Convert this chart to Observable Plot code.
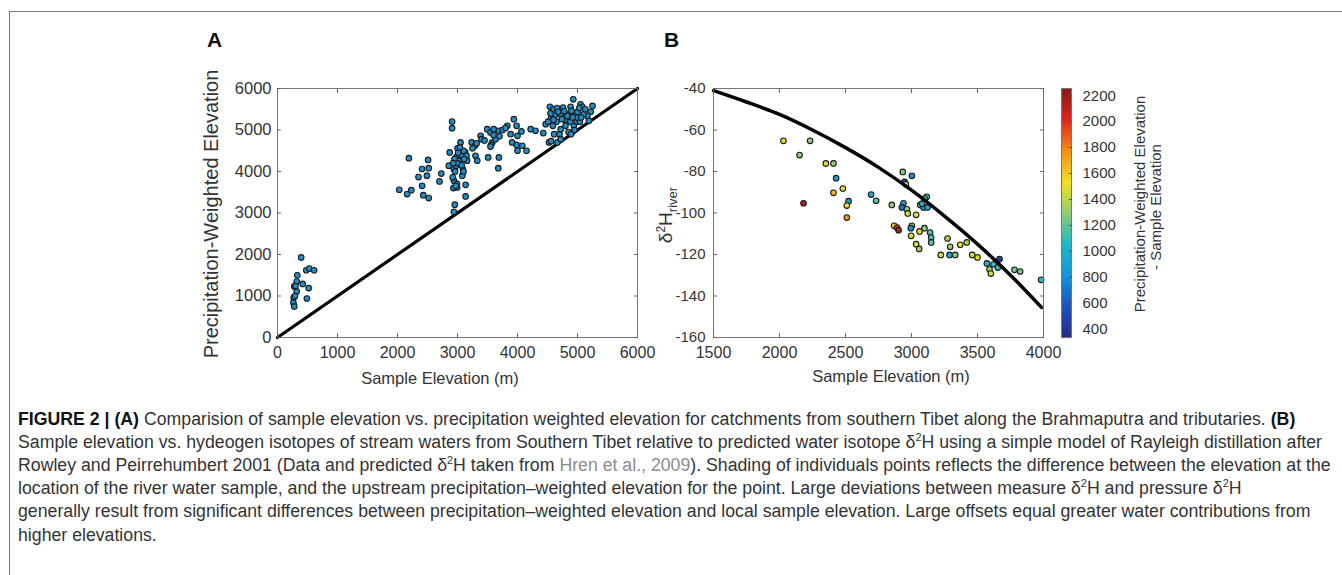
<!DOCTYPE html>
<html>
<head>
<meta charset="utf-8">
<script src="https://cdn.jsdelivr.net/npm/d3@7"></script>
<script src="https://cdn.jsdelivr.net/npm/@observablehq/plot@0.6"></script>
<style>
  body { margin: 0; background: #fff; }
  #root { position: relative; width: 1342px; height: 575px; overflow: hidden; background: #fff;
          font-family: "Liberation Sans", Arial, sans-serif; color: #333; }
  .abs { position: absolute; }
  .bt { left: 9px; top: 11px; width: 1340px; height: 0; border-top: 1.5px solid #777; }
  .bl { left: 9px; top: 11px; width: 0; height: 570px; border-left: 1.5px solid #777; }
  .panel { font-weight: bold; font-size: 21px; line-height: 21px; color: #111; }
  .ctr { white-space: nowrap; line-height: 1; transform: translate(-50%, -50%); }
  .rot { white-space: nowrap; line-height: 1; transform: translate(-50%, -50%) rotate(-90deg); }
  .cap { left: 18px; font-size: 18px; line-height: 23px; white-space: nowrap; transform-origin: 0 50%; color: #333; }
  .cap b { color: #111; }
  .link { color: #8c8c8c; }
  svg { position: absolute; }
</style>
</head>
<body>
<div id="root">
  <div class="abs bt"></div>
  <div class="abs bl"></div>
  <div class="abs panel" style="left:207px;top:29px">A</div>
  <div class="abs panel" style="left:664px;top:29px">B</div>

  <div class="abs rot" style="left:211px;top:214px;font-size:20px">Precipitation-Weighted Elevation</div>
  <div class="abs ctr" style="left:440px;top:378px;font-size:16.5px">Sample Elevation (m)</div>

  <div class="abs rot" style="left:667px;top:215px;font-size:19px">δ<sup style="font-size:12px">2</sup>H<sub style="font-size:13px">river</sub></div>
  <div class="abs ctr" style="left:891px;top:376px;font-size:16.5px">Sample Elevation (m)</div>

  <div class="abs rot" style="left:1139px;top:204px;font-size:15px">Precipitation-Weighted Elevation</div>
  <div class="abs rot" style="left:1155px;top:207px;font-size:15px">- Sample Elevation</div>

  <div id="caption"></div>
</div>
<script>
// ---------- Panel A data: [sample elevation (m), precipitation-weighted elevation (m)]
const pointsA = [
  [395,1930],[330,1500],[280,1230],[320,1350],[420,1290],[320,1110],[270,960],[290,1000],
  [265,840],[280,750],[480,1620],[530,1660],[610,1620],[520,1190],[490,940],[300,1240],
  [2030,3560],[2160,3455],[2230,3550],[2190,4320],[2350,3865],[2410,4060],[2510,4280],
  [2520,4080],[2490,3900],[2410,3655],[2430,3430],[2520,3360],[2700,3760],[2730,3950],
  [2855,4140],[2870,4460],[2910,5205],[2910,5045],[2955,3200],[2940,3030],[2940,3780],
  [2930,3600],[2995,3615],[3135,3680],[3135,3400],[3050,4700],[3000,4560],[2980,4350],
  [3020,4260],[3130,4460],[3160,4260],[3090,4060],[2940,4060],[2920,3860],[2980,4140],
  [3080,3900],[2960,4000],[3000,4200],[3060,4400],[3100,4500],[3040,4580],[2950,4300],
  [3100,4000],[3150,4380],[2990,3700],[3010,4450],[3070,4150],[2930,4200],[3110,4300],
  [2970,3650],
  [3235,4700],[3290,4620],[3300,4380],[3330,4260],[3385,4860],[3400,4780],[3495,5020],
  [3550,4940],[3605,5020],[3580,4700],[3635,4780],[3690,4980],[3510,4340],[3690,4340],
  [3680,4080],[3450,4750],[3560,4640],[3600,4880],[3250,4560],[3320,4680],[3550,4600],
  [3940,5260],[3830,5100],[3750,5000],[3985,5100],[3885,4900],[4000,4860],[4065,4965],
  [3910,4700],[3985,4640],[4000,4500],[4080,4620],[4150,4500],[3800,5050],[3700,4850],
  [4220,5020],[4300,4980],[4430,4925],
  [4470,5140],[4540,5560],[4600,5500],[4660,5530],[4760,5540],[4885,5560],[4930,5740],
  [5050,5620],[5080,5560],[5250,5580],[5220,5440],[5165,5340],[5190,5220],[4970,5380],
  [4850,5390],[4720,5380],[4620,5350],[4560,5280],[4510,5200],[4525,4700],[4610,4900],
  [4700,4900],[4665,4700],[4720,4780],[4720,5020],[4800,5100],[4910,4940],[4940,5100],
  [4990,5200],[5040,5200],[4880,5200],[4790,5250],[4650,5200],[4590,5100],[4780,5450],
  [4900,5460],[5000,5440],[5100,5380],[5130,5500],[4850,4950],[4950,5000],[5000,5300],
  [4560,4730],[4680,5440],[4830,5340],[4550,5400],[4920,5300],[5060,5300],[4890,4900],
  [5030,5530],[4740,5260],[4600,5250]
];
const identityLine = [0, 6000];
const xTicksA = [0, 1000, 2000, 3000, 4000, 5000, 6000];
const yTicksA = [0, 1000, 2000, 3000, 4000, 5000, 6000];

// ---------- Panel B data: [sample elevation (m), δ2H river, PW elevation - sample elevation]
const pointsB = [
  [2030,-65.2,1500],[2152,-72.1,1300],[2232,-65.2,1300],[2182,-95.3,2150],[2351,-76.1,1500],
  [2409,-76.1,1300],[2429,-83.2,850],[2409,-90.3,1650],[2480,-88.2,1480],[2523,-94.3,880],
  [2510,-96.4,1550],[2510,-102.2,1780],[2694,-91.1,950],[2732,-94.1,1180],[2851,-96.1,1300],
  [2869,-106.2,1550],[2890,-107.0,2000],[2902,-108.3,2150],[2934,-80.2,1280],[2947,-85.0,550],
  [2957,-86.1,1420],[3003,-82.1,780],[2939,-95.3,900],[2927,-97.3,700],[2965,-98.2,1320],
  [2972,-100.2,1480],[3003,-106.2,1250],[2995,-107.3,800],[2997,-111.0,1500],[3035,-100.9,1500],
  [3061,-108.9,1580],[3035,-115.0,1480],[3058,-117.3,1330],[3098,-107.3,1280],[3066,-96.1,1260],
  [3116,-92.2,1120],[3091,-97.3,850],[3121,-97.3,980],[3141,-109.4,1150],[3149,-111.8,1130],
  [3149,-114.2,1200],[3222,-120.2,1500],[3273,-112.3,1380],[3293,-116.3,1320],[3288,-120.2,950],
  [3331,-120.2,1250],[3369,-115.3,1500],[3419,-114.2,1380],[3460,-120.2,1460],[3500,-121.4,1500],
  [3571,-124.3,1000],[3591,-127.1,1320],[3601,-129.2,1460],[3621,-124.7,1100],[3667,-122.2,450],
  [3654,-126.3,1100],[3780,-127.4,1250],[3823,-128.2,1250],[3982,-132.2,1050],[3080,-95.5,1000],
  [3100,-93.0,1100]
];
// predicted δ2H (Rayleigh distillation model curve)
const curveElev = [1500, 1750, 2000, 2250, 2500, 2750, 3000, 3250, 3500, 3750, 3985];
const curveD2H  = [-41, -46.5, -52.5, -60, -68.5, -78, -89, -101.5, -115, -130, -145.5];
const xTicksB = [1500, 2000, 2500, 3000, 3500, 4000];
const yTicksB = [-160, -140, -120, -100, -80, -60, -40];

// ---------- Colour bar
const cbDomain = [335, 2256];
const cbTicks = [400, 600, 800, 1000, 1200, 1400, 1600, 1800, 2000, 2200];
const jetColors = ["#2b2c85", "#1f56b8", "#1c93dc", "#22b9c6", "#8fcc7c", "#f2e224", "#f39121", "#dc2c22", "#8a1b1b"];

// ---------- Caption lines
const captionLines = [
  '<b>FIGURE 2 | (A)</b> Comparision of sample elevation vs. precipitation weighted elevation for catchments from southern Tibet along the Brahmaputra and tributaries. <b>(B)</b>',
  'Sample elevation vs. hydeogen isotopes of stream waters from Southern Tibet relative to predicted water isotope δ<sup style="font-size:11px;line-height:0">2</sup>H using a simple model of Rayleigh distillation after',
  'Rowley and Peirrehumbert 2001 (Data and predicted δ<sup style="font-size:11px;line-height:0">2</sup>H taken from <span class="link">Hren et al., 2009</span>). Shading of individuals points reflects the difference between the elevation at the',
  'location of the river water sample, and the upstream precipitation–weighted elevation for the point. Large deviations between measure δ<sup style="font-size:11px;line-height:0">2</sup>H and pressure δ<sup style="font-size:11px;line-height:0">2</sup>H',
  'generally result from significant differences between precipitation–weighted elevation and local sample elevation. Large offsets equal greater water contributions from',
  'higher elevations.'
];

const FONT = '"Liberation Sans", Arial, sans-serif';
const jet = d3.piecewise(d3.interpolateRgb, jetColors);
const root = document.getElementById("root");

function place(svg, left, top) {
  svg.style.left = left + "px";
  svg.style.top = top + "px";
  root.appendChild(svg);
}

function boxAxes(xt, yt, xFont, yFont, yPad, fmt) {
  return [
    Plot.axisX(xt, {anchor: "bottom", tickSize: 0, tickPadding: 9, label: null, tickFormat: fmt, fill: "#333", fontSize: xFont}),
    Plot.axisY(yt, {anchor: "left", tickSize: 0, tickPadding: yPad, label: null, tickFormat: fmt, fill: "#333", fontSize: yFont}),
    Plot.axisX(xt, {anchor: "bottom", tickSize: 4, dy: -4, label: null, tickFormat: () => "", stroke: "#666"}),
    Plot.axisX(xt, {anchor: "top", tickSize: 4, dy: 4, label: null, tickFormat: () => "", stroke: "#666"}),
    Plot.axisY(yt, {anchor: "left", tickSize: 4, dx: 4, label: null, tickFormat: () => "", stroke: "#666"}),
    Plot.axisY(yt, {anchor: "right", tickSize: 4, dx: -4, label: null, tickFormat: () => "", stroke: "#666"})
  ];
}

// ---------- Panel A
const plotA = Plot.plot({
  width: 480, height: 330,
  marginLeft: 97, marginRight: 23, marginTop: 28, marginBottom: 53,
  style: {fontFamily: FONT, fontSize: "16px", color: "#333", background: "transparent", overflow: "visible"},
  x: {domain: [0, 6000], label: null},
  y: {domain: [0, 6000], label: null},
  marks: [
    Plot.line(identityLine, {x: d => d, y: d => d, stroke: "#000", strokeWidth: 3.2}),
    Plot.dot(pointsA, {x: d => d[0], y: d => d[1], r: 2.8, fill: "#218dc9", stroke: "#1a1a1a", strokeWidth: 1.1}),
    Plot.frame({stroke: "#777", strokeWidth: 1}),
    ...boxAxes(xTicksA, yTicksA, 16, 16.5, 6, d => String(d))
  ]
});
place(plotA, 180, 60);

// ---------- Panel B
const curveData = curveElev.map((e, i) => ({e, v: curveD2H[i]}));
const plotB = Plot.plot({
  width: 440, height: 330,
  marginLeft: 93, marginRight: 17, marginTop: 28, marginBottom: 53,
  style: {fontFamily: FONT, fontSize: "16px", color: "#333", background: "transparent", overflow: "visible"},
  x: {domain: [1500, 4000], label: null},
  y: {domain: [-160, -40], label: null},
  color: {type: "linear", domain: cbDomain, interpolate: jet},
  marks: [
    Plot.dot(pointsB, {x: d => d[0], y: d => d[1], fill: d => d[2], r: 2.8, stroke: "#1a1a1a", strokeWidth: 1.1}),
    Plot.line(curveData, {x: "e", y: "v", stroke: "#000", strokeWidth: 3.5, curve: "monotone-x"}),
    Plot.frame({stroke: "#777", strokeWidth: 1}),
    ...boxAxes(xTicksB, yTicksB, 16, 15, 8, d => String(d))
  ]
});
place(plotB, 620, 60);

// ---------- Colour bar
const cbValues = d3.range(cbDomain[0], cbDomain[1], 1);
const plotCB = Plot.plot({
  width: 100, height: 300,
  marginLeft: 21, marginRight: 69, marginTop: 28, marginBottom: 23,
  style: {fontFamily: FONT, fontSize: "15px", color: "#333", background: "transparent", overflow: "visible"},
  x: {axis: null},
  y: {domain: cbDomain, label: null},
  color: {type: "linear", domain: cbDomain, interpolate: jet},
  marks: [
    Plot.ruleY(cbValues, {y: d => d, stroke: d => d, strokeWidth: 1.2}),
    Plot.frame({stroke: "#777", strokeWidth: 1}),
    Plot.axisY(cbTicks, {anchor: "right", tickSize: 0, tickPadding: 11, label: null, tickFormat: d => String(d), fill: "#333", fontSize: 15}),
    Plot.axisY(cbTicks, {anchor: "right", tickSize: 3, dx: -3, label: null, tickFormat: () => "", stroke: "#555"})
  ]
});
place(plotCB, 1040, 60);

// ---------- Caption
const cap = document.getElementById("caption");
const capTops = [408, 431, 454, 477, 500, 524];
const lineEls = captionLines.map((html, i) => {
  const div = document.createElement("div");
  div.className = "abs cap";
  div.style.top = capTops[i] + "px";
  div.innerHTML = html;
  cap.appendChild(div);
  return div;
});
const refW = lineEls[1].getBoundingClientRect().width;
const s = 1304 / refW;
lineEls.forEach(el => { el.style.transform = `scaleX(${s})`; });
</script>
</body>
</html>
